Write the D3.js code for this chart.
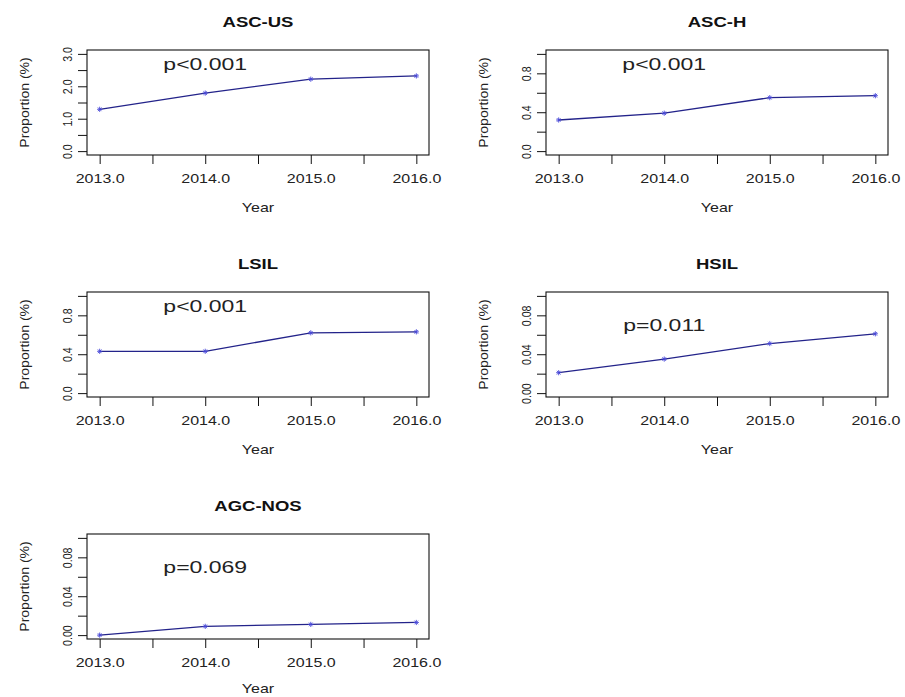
<!DOCTYPE html>
<html><head><meta charset="utf-8">
<script src="https://cdn.jsdelivr.net/npm/d3@7"></script>
<style>body{margin:0;background:#fff}svg{display:block}text{font-family:"Liberation Sans",Arial,sans-serif}</style>
</head><body>
<svg id="c" width="905" height="697"></svg>
<script>
// ---- data ----
const years = [2013, 2014, 2015, 2016];
const panelTitles = ["ASC-US", "ASC-H", "LSIL", "HSIL", "AGC-NOS"];
const ascus  = [1.29, 1.79, 2.22, 2.32];
const asch   = [0.32, 0.39, 0.55, 0.57];
const lsil   = [0.43, 0.43, 0.62, 0.63];
const hsil   = [0.021, 0.035, 0.051, 0.061];
const agcnos = [0.000, 0.009, 0.011, 0.013];
const seriesValues = [ascus, asch, lsil, hsil, agcnos];
const yMax = [3, 1, 1, 0.1, 0.1];
const yTicks = [
  [0, 0.5, 1, 1.5, 2, 2.5, 3],
  [0, 0.2, 0.4, 0.6, 0.8, 1.0],
  [0, 0.2, 0.4, 0.6, 0.8, 1.0],
  [0, 0.02, 0.04, 0.06, 0.08, 0.10],
  [0, 0.02, 0.04, 0.06, 0.08, 0.10]
];
const yTickLabels = [
  ["0.0", "", "1.0", "", "2.0", "", "3.0"],
  ["0.0", "", "0.4", "", "0.8", ""],
  ["0.0", "", "0.4", "", "0.8", ""],
  ["0.00", "", "0.04", "", "0.08", ""],
  ["0.00", "", "0.04", "", "0.08", ""]
];
const xTicks = [2013, 2013.5, 2014, 2014.5, 2015, 2015.5, 2016];
const xTickLabels = ["2013.0", "", "2014.0", "", "2015.0", "", "2016.0"];
const pTexts = ["p<0.001", "p<0.001", "p<0.001", "p=0.011", "p=0.069"];
const pTextX = [2014, 2014, 2014, 2014, 2014];
const pTextY = [2.7, 0.9, 0.9, 0.07, 0.07];
const xLabel = "Year";
const yLabel = "Proportion (%)";

// ---- layout ----
const svg = d3.select("#c");
const colLeft = [87, 546], rowTop = [50, 292, 534];
const W = 342, H = 105;
const sq = 0.75;

panelTitles.forEach((title, i) => {
  const row = Math.floor(i / 2);
  const left = colLeft[i % 2], top = rowTop[row];
  const g = svg.append("g").attr("transform", `translate(${left},${top})`);
  const x = d3.scaleLinear().domain([2013 - 0.12, 2016 + 0.12]).range([0, W]);
  const ym = yMax[i];
  const y = d3.scaleLinear().domain([-0.04 * ym, 1.04 * ym]).range([H, 0]);

  // x axis
  const xa = g.append("g").attr("transform", `translate(0,${H})`)
    .call(d3.axisBottom(x).tickValues(xTicks).tickSize(9).tickSizeOuter(0)
      .tickFormat((d, k) => xTickLabels[k]));
  xa.select(".domain").remove();
  xa.selectAll("line").attr("stroke", "#111");
  xa.selectAll("text").attr("y", null).attr("dy", null)
    .attr("transform", `translate(0,27.5) scale(1,${sq})`)
    .attr("font-size", 16).attr("fill", "#222").attr("text-anchor", "middle");

  // y axis
  const ya = g.append("g")
    .call(d3.axisLeft(y).tickValues(yTicks[i]).tickSize(9).tickSizeOuter(0)
      .tickFormat((d, k) => yTickLabels[i][k]));
  ya.select(".domain").remove();
  ya.selectAll("line").attr("stroke", "#111");
  ya.selectAll("text").attr("x", null).attr("dy", null)
    .attr("transform", `translate(-15,0) scale(1,0.82) rotate(-90)`)
    .attr("font-size", 13).attr("fill", "#222").attr("text-anchor", "middle");

  // box
  g.append("rect").attr("x", 0).attr("y", 0).attr("width", W).attr("height", H)
    .attr("fill", "none").attr("stroke", "#111").attr("stroke-width", 1.1);

  // title
  g.append("text").attr("transform", `translate(${W / 2},-23) scale(1,${sq})`)
    .attr("text-anchor", "middle").attr("font-weight", "bold").attr("font-size", 18.5)
    .attr("fill", "#111").text(title);

  // axis labels
  const yearOff = row === 2 ? 54 : 57;
  g.append("text").attr("transform", `translate(${W / 2},${H + yearOff}) scale(1,${sq})`)
    .attr("text-anchor", "middle").attr("font-size", 16).attr("fill", "#222").text(xLabel);
  g.append("text").attr("transform", `translate(-58,${H / 2}) scale(1,1.08) rotate(-90)`)
    .attr("text-anchor", "middle").attr("font-size", 13).attr("fill", "#222").text(yLabel);

  // line
  const vals = seriesValues[i];
  const pts = years.map((yr, k) => [yr, vals[k]]);
  g.append("path").datum(pts)
    .attr("d", d3.line().x(d => x(d[0])).y(d => y(d[1])))
    .attr("fill", "none").attr("stroke", "#23238a").attr("stroke-width", 1.3);

  // star markers
  const r = 2.6;
  pts.forEach(d => {
    const cx = x(d[0]), cy = y(d[1]);
    const m = g.append("g").attr("stroke", "#4a4ad8").attr("stroke-width", 0.9);
    m.append("line").attr("x1", cx - r).attr("x2", cx + r).attr("y1", cy).attr("y2", cy);
    m.append("line").attr("x1", cx - r * 0.7).attr("x2", cx + r * 0.7).attr("y1", cy - r * 0.7).attr("y2", cy + r * 0.7);
    m.append("line").attr("x1", cx - r * 0.7).attr("x2", cx + r * 0.7).attr("y1", cy + r * 0.7).attr("y2", cy - r * 0.7);
    m.append("line").attr("x1", cx).attr("x2", cx).attr("y1", cy - r).attr("y2", cy + r);
  });

  // p-value annotation
  g.append("text")
    .attr("transform", `translate(${x(pTextX[i])},${y(pTextY[i]) + 6.2}) scale(1,${sq})`)
    .attr("text-anchor", "middle").attr("font-size", 23).attr("fill", "#222").text(pTexts[i]);
});
</script>
</body></html>
